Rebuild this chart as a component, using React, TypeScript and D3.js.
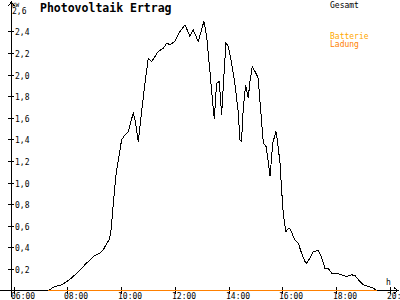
import React from "react";
import * as d3 from "d3";

// Gesamt (total production), time in decimal hours, value in kW
const gesamtTimes = [
  7.29, 7.54, 7.79, 7.98, 8.16, 8.41, 8.72, 8.97, 9.22, 9.34, 9.47, 9.56, 9.63, 9.74, 9.81, 9.9,
  10.02, 10.15, 10.27, 10.45, 10.52, 10.64, 10.77, 10.89, 11.01, 11.14, 11.26, 11.38, 11.57, 11.7,
  11.82, 12.0, 12.19, 12.38, 12.56, 12.68, 12.87, 13.08, 13.18, 13.31, 13.43, 13.47, 13.55, 13.65,
  13.74, 13.83, 13.9, 13.99, 14.11, 14.23, 14.36, 14.42, 14.48, 14.54, 14.63, 14.73, 14.79, 14.88,
  14.98, 15.1, 15.16, 15.29, 15.39, 15.47, 15.54, 15.64, 15.76, 15.81, 15.91, 15.97, 16.03, 16.09,
  16.13, 16.18, 16.25, 16.34, 16.4, 16.47, 16.59, 16.71, 16.84, 16.9, 17.02, 17.15, 17.33, 17.42,
  17.58, 17.7, 17.83, 18.02, 18.2, 18.39, 18.57, 18.7, 18.88, 19.0, 19.19, 19.38, 19.5,
];
const gesamtValues = [
  0, 0.037, 0.053, 0.083, 0.115, 0.176, 0.254, 0.315, 0.346, 0.377, 0.439, 0.469, 0.562, 0.886, 1.07, 1.21,
  1.395, 1.442, 1.472, 1.643, 1.58, 1.38, 1.673, 1.92, 2.152, 2.12, 2.167, 2.213, 2.244, 2.29,
  2.275, 2.306, 2.398, 2.46, 2.352, 2.414, 2.306, 2.491, 2.358, 2.013, 1.673, 1.59, 1.92, 1.935,
  1.627, 2.013, 2.29, 2.259, 2.106, 1.92, 1.643, 1.395, 1.38, 1.673, 1.905, 1.781, 1.935, 2.074,
  2.028, 1.967, 1.766, 1.365, 1.333, 1.194, 1.056, 1.365, 1.472, 1.395, 1.18, 0.932, 0.717, 0.608,
  0.546, 0.562, 0.578, 0.546, 0.5, 0.465, 0.439, 0.346, 0.269, 0.254, 0.3, 0.361, 0.37, 0.331,
  0.207, 0.207, 0.161, 0.161, 0.145, 0.13, 0.145, 0.139, 0.083, 0.053, 0.037, 0.022, 0,
];

// Batterie Ladung (battery charge)
const ladungTimes = [7.29, 19.5];
const ladungValues = [0, 0];

const yTicks = [0.2, 0.4, 0.6, 0.8, 1.0, 1.2, 1.4, 1.6, 1.8, 2.0, 2.2, 2.4];
const yTickLabels = ["0,2", "0,4", "0,6", "0,8", "1,0", "1,2", "1,4", "1,6", "1,8", "2,0", "2,2", "2,4"];
const yTopLabel = "2,6";
const xTicks = [6, 8, 10, 12, 14, 16, 18, 20];
const xTickLabels = ["06:00", "08:00", "10:00", "12:00", "14:00", "16:00", "18:00", "20:00"];

const W = 400;
const H = 300;
const FONT = "'DejaVu Sans Mono', monospace";

export default function App() {
  const x = d3.scaleLinear().domain([6, 20]).range([13.5, 390]);
  const y = d3.scaleLinear().domain([0, 2.6]).range([290.5, 9.7]);
  const axisX = 11.5;
  const axisY = 290.5;

  const gesamtLine = d3
    .line<number>()
    .x((_, i) => x(gesamtTimes[i]))
    .y((d) => y(d))(gesamtValues) as string;
  const ladungLine = d3
    .line<number>()
    .x((_, i) => x(ladungTimes[i]))
    .y((d) => y(d))(ladungValues) as string;

  return (
    <div style={{ position: "fixed", left: 0, top: 0 }}>
      <svg width={W} height={H} style={{ display: "block", background: "#fff" }}>
        <rect x={0} y={0} width={W} height={H} fill="#fff" />
        {/* title */}
        <text x={40} y={12} fontFamily={FONT} fontSize={11.5} fontWeight="bold" fill="#000">
          Photovoltaik Ertrag
        </text>
        {/* legend */}
        <text x={330} y={8} fontFamily={FONT} fontSize={8} fill="#000">Gesamt</text>
        <text x={330} y={39} fontFamily={FONT} fontSize={8} fill="#ffa800">Batterie</text>
        <text x={330} y={47} fontFamily={FONT} fontSize={8} fill="#ff8000">Ladung</text>

        {/* y axis */}
        <line x1={axisX} y1={2} x2={axisX} y2={297} stroke="#000" shapeRendering="crispEdges" />
        <path d={`M${axisX - 3},6 L${axisX},2 L${axisX + 3},6`} fill="none" stroke="#000" shapeRendering="crispEdges" />
        <text x={12} y={7} fontFamily={FONT} fontSize={6} fill="#000">KW</text>
        <text x={12} y={y(2.6) + 4.5} fontFamily={FONT} fontSize={8} fill="#000">{yTopLabel}</text>
        {yTicks.map((t, i) => (
          <g key={"yt" + i}>
            <line x1={8} x2={14} y1={Math.round(y(t)) + 0.5} y2={Math.round(y(t)) + 0.5} stroke="#000" shapeRendering="crispEdges" />
            <text x={15} y={Math.round(y(t)) + 3.5} fontFamily={FONT} fontSize={8} fill="#000">
              {yTickLabels[i]}
            </text>
          </g>
        ))}

        {/* x axis */}
        <line x1={0} y1={axisY} x2={398} y2={axisY} stroke="#000" shapeRendering="crispEdges" />
        <path d={`M394,${axisY - 3} L398,${axisY} L394,${axisY + 3}`} fill="none" stroke="#000" shapeRendering="crispEdges" />
        <text x={386} y={285} fontFamily={FONT} fontSize={8} fill="#000">h</text>
        {xTicks.map((t, i) => (
          <g key={"xt" + i}>
            <line x1={Math.round(x(t)) + 0.5} x2={Math.round(x(t)) + 0.5} y1={287} y2={294} stroke="#000" shapeRendering="crispEdges" />
            <text x={Math.round(x(t)) - 3} y={299} fontFamily={FONT} fontSize={8} fill="#000">
              {xTickLabels[i]}
            </text>
          </g>
        ))}

        {/* series */}
        <path d={gesamtLine} fill="none" stroke="#000" strokeWidth={1} shapeRendering="crispEdges" />
        <path d={ladungLine} fill="none" stroke="#ff8000" strokeWidth={1.2} shapeRendering="crispEdges" />
      </svg>
    </div>
  );
}
